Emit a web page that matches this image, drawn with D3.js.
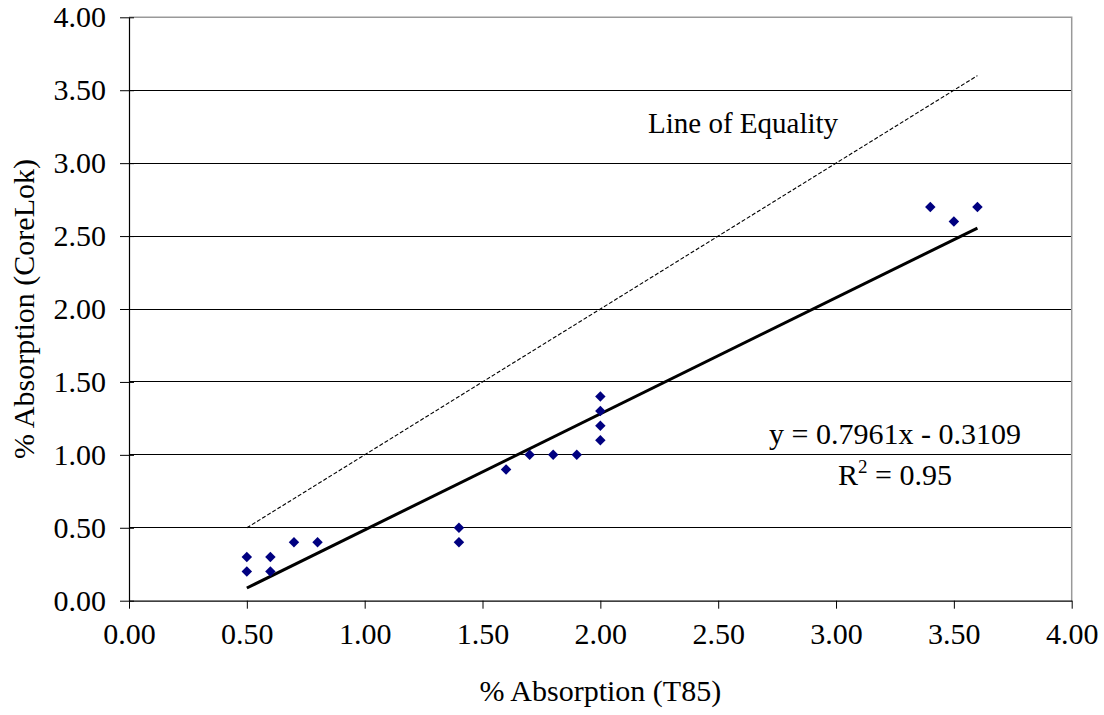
<!DOCTYPE html>
<html>
<head>
<meta charset="utf-8">
<script src="https://cdn.jsdelivr.net/npm/d3@7"></script>
<style>
  html, body { margin: 0; padding: 0; background: #fff; }
  svg { display: block; }
  text { font-family: "Liberation Serif", "Times New Roman", serif; fill: #000; }
</style>
</head>
<body>
<svg id="chart" width="1104" height="715"></svg>
<script>
// Measured absorption: T85 method vs CoreLok method (%)
const t85Values     = [0.5, 0.5, 0.6, 0.6, 0.7, 0.8, 1.4, 1.4, 1.6, 1.7, 1.8, 1.9, 2.0, 2.0, 2.0, 2.0, 3.4, 3.5, 3.6];
const coreLokValues = [0.3, 0.2, 0.3, 0.2, 0.4, 0.4, 0.5, 0.4, 0.9, 1.0, 1.0, 1.0, 1.4, 1.3, 1.2, 1.1, 2.7, 2.6, 2.7];

// Linear fit reported on the chart
const fitSlope = 0.7961;
const fitIntercept = -0.3109;
const fitR2 = 0.95;
const fitRange = [0.5, 3.6];

// Line of equality endpoints
const equalityRange = [0.5, 3.6];

const xTicks = [0, 0.5, 1, 1.5, 2, 2.5, 3, 3.5, 4];
const yTicks = [0, 0.5, 1, 1.5, 2, 2.5, 3, 3.5, 4];

const svg = d3.select("#chart");
const plotLeft = 129, plotRight = 1071.7, plotTop = 17.3, plotBottom = 600.7;

const x = d3.scaleLinear().domain([0, 4]).range([plotLeft, plotRight]);
const y = d3.scaleLinear().domain([0, 4]).range([plotBottom, plotTop]);

const FS = 30;

// Horizontal gridlines
svg.append("g")
  .selectAll("line")
  .data(yTicks.filter(d => d > 0 && d < 4))
  .join("line")
  .attr("x1", plotLeft).attr("x2", plotRight)
  .attr("y1", d => y(d)).attr("y2", d => y(d))
  .attr("stroke", "#000").attr("stroke-width", 1)
  .attr("shape-rendering", "crispEdges");

// Plot area border (top and right)
svg.append("path")
  .attr("d", `M${plotLeft},${y(4)}H${plotRight}V${plotBottom}`)
  .attr("fill", "none")
  .attr("stroke", "#999").attr("stroke-width", 1.5);

// Axes
const xAxis = d3.axisBottom(x).tickValues(xTicks).tickSizeInner(8).tickSizeOuter(0)
  .tickFormat(d3.format(".2f")).tickPadding(14);
const yAxis = d3.axisLeft(y).tickValues(yTicks).tickSizeInner(9).tickSizeOuter(0)
  .tickFormat(d3.format(".2f")).tickPadding(14);

const gx = svg.append("g").attr("transform", `translate(0,${plotBottom})`).call(xAxis);
const gy = svg.append("g").attr("transform", `translate(${plotLeft},0)`).call(yAxis);

[gx, gy].forEach(g => {
  g.select(".domain").attr("stroke", "#000").attr("stroke-width", 1.2);
  g.selectAll(".tick line").attr("stroke", "#000").attr("stroke-width", 1);
  g.selectAll(".tick text")
    .attr("font-family", '"Liberation Serif", "Times New Roman", serif')
    .attr("font-size", FS).attr("fill", "#000");
});
// y ticks cross the axis line
gy.selectAll(".tick line").attr("x1", 5);
gx.selectAll(".tick text").attr("dy", "0.71em");

// Line of equality
svg.append("line")
  .attr("x1", x(equalityRange[0])).attr("y1", y(equalityRange[0]))
  .attr("x2", x(equalityRange[1])).attr("y2", y(equalityRange[1]))
  .attr("stroke", "#000").attr("stroke-width", 1.1)
  .attr("stroke-dasharray", "4,2");

// Regression line
svg.append("line")
  .attr("x1", x(fitRange[0])).attr("y1", y(fitSlope * fitRange[0] + fitIntercept))
  .attr("x2", x(fitRange[1])).attr("y2", y(fitSlope * fitRange[1] + fitIntercept))
  .attr("stroke", "#000").attr("stroke-width", 3);

// Data points as diamonds
const diamond = d3.symbol().type(d3.symbolDiamond2).size(70);
svg.append("g")
  .selectAll("path")
  .data(t85Values.map((v, i) => [v, coreLokValues[i]]))
  .join("path")
  .attr("d", diamond)
  .attr("transform", d => `translate(${x(d[0])},${y(d[1])})`)
  .attr("fill", "#000080");

// Annotations
svg.append("text")
  .attr("x", 648).attr("y", 133)
  .attr("font-size", 29)
  .text("Line of Equality");

svg.append("text")
  .attr("x", 895).attr("y", 444)
  .attr("text-anchor", "middle")
  .attr("font-size", FS)
  .text(`y = ${fitSlope}x - ${Math.abs(fitIntercept)}`);

const r2 = svg.append("text")
  .attr("x", 895).attr("y", 485)
  .attr("text-anchor", "middle")
  .attr("font-size", FS);
r2.append("tspan").text("R");
r2.append("tspan").attr("dy", -12).attr("font-size", 19).text("2");
r2.append("tspan").attr("dy", 12).text(` = ${fitR2}`);

// Axis titles
svg.append("text")
  .attr("x", (plotLeft + plotRight) / 2).attr("y", 701)
  .attr("text-anchor", "middle")
  .attr("font-size", FS)
  .text("% Absorption (T85)");

svg.append("text")
  .attr("transform", `translate(34,${(plotTop + plotBottom) / 2}) rotate(-90)`)
  .attr("text-anchor", "middle")
  .attr("font-size", FS)
  .text("% Absorption (CoreLok)");
</script>
</body>
</html>
